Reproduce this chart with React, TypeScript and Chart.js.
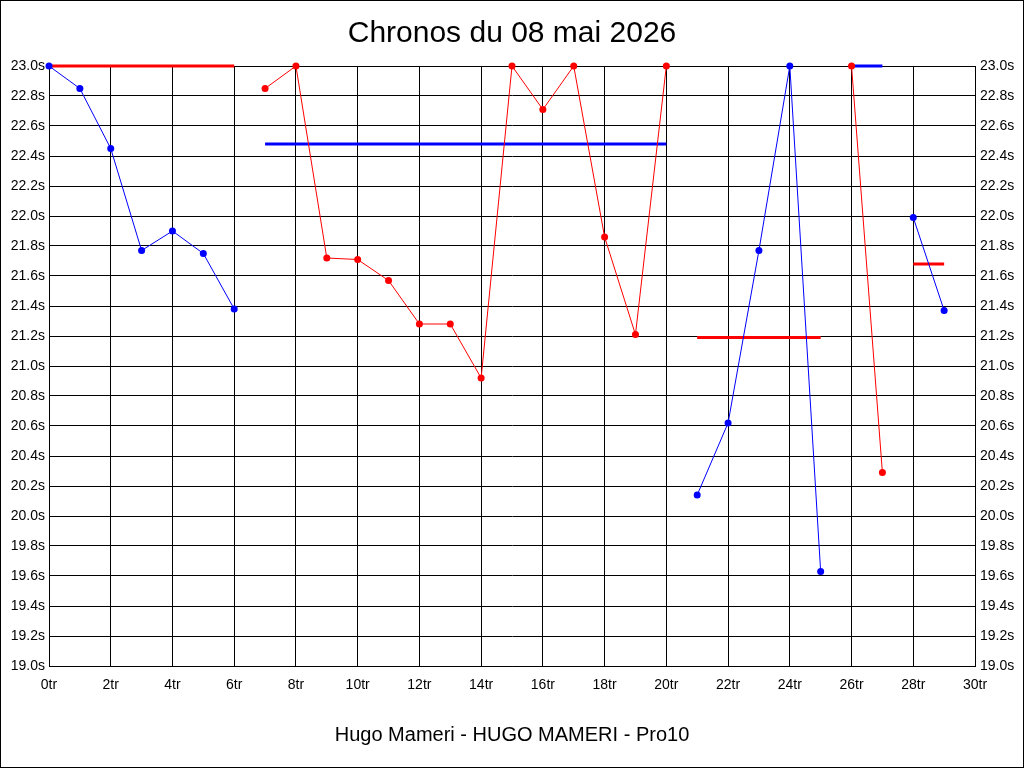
import React, { useEffect, useRef } from 'react';
import { Chart, registerables } from 'chart.js';

Chart.register(...registerables);

// lap number (tr) -> time in seconds, null where the rider is in the other colour
const laps = [0, 1, 2, 3, 4, 5, 6, 7, 8, 9, 10, 11, 12, 13, 14, 15, 16, 17, 18, 19, 20, 21, 22, 23, 24, 25, 26, 27, 28, 29];
const blueTimes = [23.0, 22.85, 22.45, 21.77, 21.9, 21.75, 21.38, null, null, null, null, null, null, null, null, null, null, null, null, null, null, 20.14, 20.62, 21.77, 23.0, 19.63, null, null, 21.99, 21.37];
const redTimes = [null, null, null, null, null, null, null, 22.85, 23.0, 21.72, 21.71, 21.57, 21.28, 21.28, 20.92, 23.0, 22.71, 23.0, 21.86, 21.21, 23.0, null, null, null, null, null, 23.0, 20.29, null, null];

// horizontal reference levels
const redLevelFrom = [0, 21, 28];
const redLevelTo = [6, 25, 29];
const redLevelValue = [23.0, 21.19, 21.68];
const blueLevelFrom = [7, 26];
const blueLevelTo = [20, 27];
const blueLevelValue = [22.48, 23.0];

const TITLE = 'Chronos du 08 mai 2026';
const X_TITLE = 'Hugo Mameri - HUGO MAMERI - Pro10';

const tickFont = { family: "'Liberation Sans Narrow', 'Arial Narrow', 'Liberation Sans', Arial, sans-serif", size: 14, lineHeight: 1 };

const toPoints = (values: (number | null)[]) => laps.map((x, i) => ({ x, y: values[i] }));

const levelPoints = (from: number[], to: number[], value: number[]) => {
  const pts: { x: number; y: number | null }[] = [];
  from.forEach((f, i) => {
    pts.push({ x: f, y: value[i] });
    pts.push({ x: to[i], y: value[i] });
    pts.push({ x: to[i], y: null });
  });
  return pts;
};

const frame = {
  id: 'frame',
  beforeDraw(chart: Chart) {
    const { ctx, width, height } = chart;
    ctx.save();
    ctx.fillStyle = '#ffffff';
    ctx.fillRect(0, 0, width, height);
    ctx.strokeStyle = '#000000';
    ctx.lineWidth = 1;
    ctx.strokeRect(0.5, 0.5, width - 1, height - 1);
    ctx.restore();
  },
};

const App: React.FC = () => {
  const chartRef = useRef<HTMLCanvasElement>(null);
  const chartInstance = useRef<Chart | null>(null);

  useEffect(() => {
    if (!chartRef.current) return;
    if (chartInstance.current) chartInstance.current.destroy();

    const series = (label: string, color: string, values: (number | null)[]) => ({
      label,
      data: toPoints(values),
      borderColor: color,
      backgroundColor: color,
      borderWidth: 1,
      pointRadius: 3.5,
      pointBorderWidth: 0,
      spanGaps: false,
      clip: false as const,
    });

    const level = (label: string, color: string, pts: { x: number; y: number | null }[]) => ({
      label,
      data: pts,
      borderColor: color,
      backgroundColor: color,
      borderWidth: 3,
      pointRadius: 0,
      spanGaps: false,
      clip: false as const,
    });

    chartInstance.current = new Chart(chartRef.current, {
      type: 'line',
      data: {
        datasets: [
          series('bleu', '#0000ff', blueTimes),
          series('rouge', '#ff0000', redTimes),
          level('niveau rouge', '#ff0000', levelPoints(redLevelFrom, redLevelTo, redLevelValue)),
          level('niveau bleu', '#0000ff', levelPoints(blueLevelFrom, blueLevelTo, blueLevelValue)),
        ],
      },
      options: {
        animation: false,
        responsive: false,
        devicePixelRatio: 1,
        layout: { padding: 0 },
        elements: { line: { tension: 0 } },
        plugins: {
          legend: { display: false },
          tooltip: { enabled: false },
          title: {
            display: true,
            text: TITLE,
            color: '#000000',
            font: { family: "'Liberation Sans', Arial, sans-serif", size: 30, weight: 'normal', lineHeight: 1 },
            padding: { top: 19, bottom: 17 },
          },
        },
        scales: {
          x: {
            type: 'linear',
            min: 0,
            max: 30,
            afterFit: (scale: any) => { scale.height = 102; },
            ticks: {
              stepSize: 2,
              color: '#000000',
              font: tickFont,
              padding: 12,
              maxRotation: 0,
              autoSkip: false,
              callback: (v: any) => `${v}tr`,
            },
            grid: { color: '#000000', lineWidth: 1, drawTicks: false },
            border: { color: '#000000', width: 1 },
            title: {
              display: true,
              text: X_TITLE,
              color: '#000000',
              font: { family: "'Liberation Sans', Arial, sans-serif", size: 20, lineHeight: 1 },
              padding: { top: 0, bottom: 23 },
            },
          },
          y: {
            position: 'left',
            min: 19,
            max: 23,
            afterFit: (scale: any) => { scale.width = 49; },
            ticks: {
              stepSize: 0.2,
              color: '#000000',
              font: tickFont,
              padding: 4,
              callback: (v: any) => `${Number(v).toFixed(1)}s`,
            },
            grid: { color: '#000000', lineWidth: 1, drawTicks: false },
            border: { color: '#000000', width: 1 },
          },
          y2: {
            position: 'right',
            min: 19,
            max: 23,
            afterFit: (scale: any) => { scale.width = 49; },
            ticks: {
              stepSize: 0.2,
              color: '#000000',
              font: tickFont,
              padding: 5,
              callback: (v: any) => `${Number(v).toFixed(1)}s`,
            },
            grid: { display: false, drawTicks: false },
            border: { color: '#000000', width: 1 },
          },
        },
      },
      plugins: [frame],
    });

    return () => {
      if (chartInstance.current) {
        chartInstance.current.destroy();
        chartInstance.current = null;
      }
    };
  }, []);

  return (
    <div style={{ position: 'absolute', left: 0, top: 0, width: 1024, height: 768 }}>
      <canvas ref={chartRef} width={1024} height={768} style={{ display: 'block', width: 1024, height: 768 }}></canvas>
    </div>
  );
};

export default App;
